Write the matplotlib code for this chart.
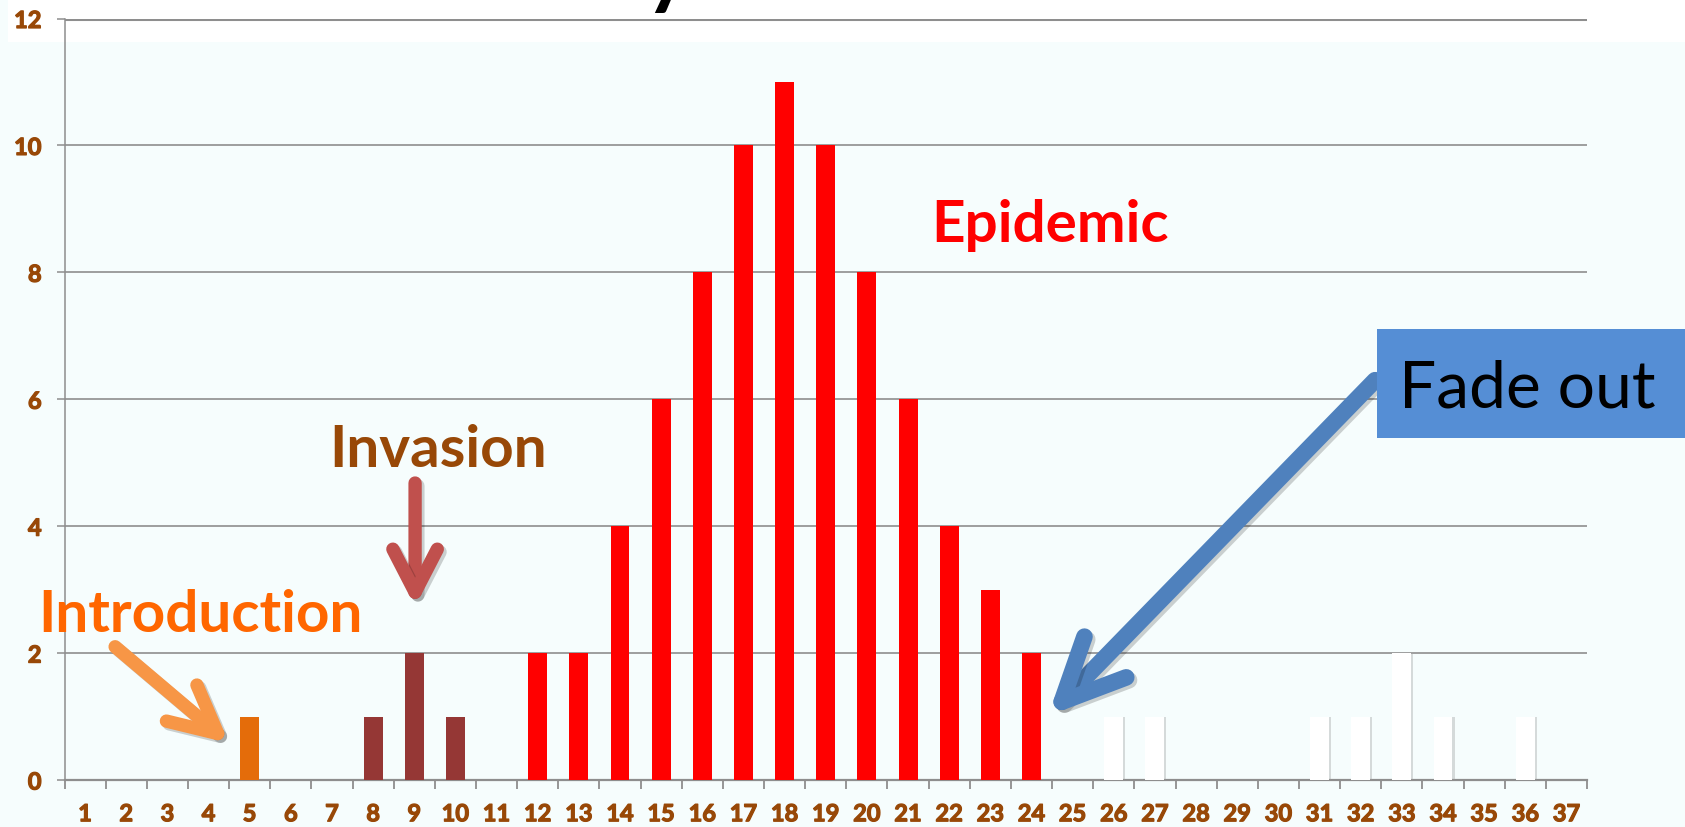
import matplotlib
matplotlib.use("Agg")
import matplotlib.pyplot as plt
import matplotlib.patheffects as pe
from matplotlib.patches import FancyArrowPatch, Rectangle, ArrowStyle
from matplotlib.ticker import FixedLocator

# ==========================================================
# Weekly case counts, split by outbreak phase
# ==========================================================

weeks = list(range(1, 38))

intro_weeks = [5]
intro_cases = [1]

invasion_weeks = [8, 9, 10]
invasion_cases = [1, 2, 1]

epidemic_weeks = [12, 13, 14, 15, 16, 17, 18, 19, 20, 21, 22, 23, 24]
epidemic_cases = [2, 2, 4, 6, 8, 10, 11, 10, 8, 6, 4, 3, 2]

fade_weeks = [26, 27, 31, 32, 33, 34, 36]
fade_cases = [1, 1, 1, 1, 2, 1, 1]

y_ticks = [0, 2, 4, 6, 8, 10, 12]

# ==========================================================
# Style
# ==========================================================

plt.rcParams['font.family'] = ['Lato', 'DejaVu Sans']

BG = '#F6FDFD'
GRID = '#8E8E8E'
BROWN = '#984807'

fig = plt.figure(figsize=(16.85, 8.28), dpi=100, facecolor=BG)
ax = fig.add_axes([64.5 / 1685, 47 / 828, 1522.5 / 1685, 761.5 / 828])
ax.set_facecolor('none')

# white band behind the slide title
fig.patches.append(Rectangle((8 / 1685, 1 - 43 / 828), 1, 43 / 828,
                             transform=fig.transFigure, facecolor='white',
                             edgecolor='none', zorder=-10))
# tail of the cropped title text
fig.text(645 / 1685, 1 + 2 / 828, 'y', fontsize=62, fontweight='bold',
         color='black', ha='left', va='baseline')

# ==========================================================
# Bars
# ==========================================================

w = 0.46
ax.bar(intro_weeks, intro_cases, width=w, color='#E46C0A', zorder=3)
ax.bar(invasion_weeks, invasion_cases, width=w, color='#953735', zorder=3)
ax.bar(epidemic_weeks, epidemic_cases, width=w, color='#FF0000', zorder=3)
fade_bars = ax.bar(fade_weeks, fade_cases, width=w, color='white', zorder=3)
for b in fade_bars:
    b.set_path_effects([
        pe.SimplePatchShadow(offset=(1.5, -0.5), shadow_rgbFace='#9a9a9a', alpha=0.35),
        pe.Normal()
    ])

# ==========================================================
# Axes formatting
# ==========================================================

ax.set_xlim(0.5, 37.5)
ax.set_ylim(0, 12)

# heavier look for the brown tick labels
tick_fx = [pe.withStroke(linewidth=0.9, foreground=BROWN)]

ax.set_xticks(weeks)
ax.set_xticklabels([str(k) for k in weeks])
ax.xaxis.set_minor_locator(FixedLocator([k + 0.5 for k in range(0, 38)]))
ax.tick_params(axis='x', which='major', length=0, pad=16,
               labelsize=17, labelcolor=BROWN)
ax.tick_params(axis='x', which='minor', length=6.5, width=1.3,
               color=GRID, direction='out')
for lbl in ax.get_xticklabels():
    lbl.set_fontweight('bold')
    lbl.set_path_effects(tick_fx)

ax.set_yticks(y_ticks)
ax.set_yticklabels([str(v) for v in y_ticks])
ax.tick_params(axis='y', which='major', length=5.5, width=1.1,
               color=GRID, pad=11, labelsize=17, labelcolor=BROWN)
for lbl in ax.get_yticklabels():
    lbl.set_fontweight('bold')
    lbl.set_path_effects(tick_fx)

ax.grid(axis='y', color=GRID, linewidth=1.2, zorder=1)
ax.set_axisbelow(True)
ax.axhline(12, color=GRID, linewidth=2.2, zorder=1)

for side in ['top', 'right']:
    ax.spines[side].set_visible(False)
ax.spines['left'].set_color(GRID)
ax.spines['left'].set_linewidth(1.1)
ax.spines['bottom'].set_color(GRID)
ax.spines['bottom'].set_linewidth(1.6)

# ==========================================================
# Phase labels and arrows
# ==========================================================

ax.text(24.44, 8.49, 'Epidemic', color='#FF0000', fontsize=42,
        fontweight='bold', ha='center', va='baseline', zorder=5)
ax.text(9.58, 4.95, 'Invasion', color=BROWN, fontsize=42,
        fontweight='bold', ha='center', va='baseline', zorder=5)
ax.text(3.81, 2.35, 'Introduction', color='#FF6600', fontsize=42,
        fontweight='bold', ha='center', va='baseline', zorder=5,
        clip_on=False)


def phase_arrow(tail, tip, color, lw, head_len, head_w):
    arrow = FancyArrowPatch(
        tail, tip,
        arrowstyle=ArrowStyle('->', head_length=head_len, head_width=head_w),
        mutation_scale=1, color=color, linewidth=lw,
        capstyle='round', joinstyle='round',
        shrinkA=0, shrinkB=0, zorder=6, clip_on=False)
    arrow.set_path_effects([
        pe.SimpleLineShadow(offset=(2, -2), shadow_color='black', alpha=0.18),
        pe.Normal()
    ])
    ax.add_patch(arrow)


phase_arrow((1.73, 2.10), (4.50, 0.58), '#F79646', 9.6, 34, 17)
phase_arrow((9.02, 4.68), (9.02, 2.73), '#C0504D', 9.6, 31, 16)
phase_arrow((32.35, 6.30), (24.40, 1.01), '#4F81BD', 12, 45, 21)

# Fade out call-out box
ax.add_patch(Rectangle((32.40, 5.39), 7.6, 1.72, facecolor='#558ED5',
                       edgecolor='none', zorder=7, clip_on=False))
ax.text(36.06, 5.89, 'Fade out', color='black', fontsize=47.5,
        ha='center', va='baseline', zorder=8, clip_on=False)

fig.savefig('out.png', dpi=100, facecolor=BG)
